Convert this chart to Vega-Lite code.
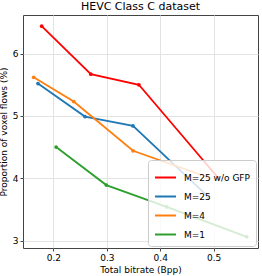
{
  "$schema": "https://vega.github.io/schema/vega-lite/v6.json",
  "width": 235,
  "height": 233,
  "autosize": {"type": "none"},
  "padding": {"left": 23, "top": 15, "right": 4, "bottom": 28},
  "title": {"text": "HEVC Class C dataset", "font": "DejaVu Sans", "fontSize": 11, "fontWeight": "normal", "color": "#000", "offset": 3},
  "config": {
    "view": {"stroke": "#444", "strokeWidth": 1},
    "font": "DejaVu Sans"
  },
  "data": {"values": [
    {"series": "M=25 w/o GFP", "bpp": 0.178, "p": 6.44},
    {"series": "M=25 w/o GFP", "bpp": 0.270, "p": 5.67},
    {"series": "M=25 w/o GFP", "bpp": 0.360, "p": 5.50},
    {"series": "M=25 w/o GFP", "bpp": 0.509, "p": 4.00},
    {"series": "M=25", "bpp": 0.171, "p": 5.52},
    {"series": "M=25", "bpp": 0.259, "p": 4.99},
    {"series": "M=25", "bpp": 0.349, "p": 4.84},
    {"series": "M=25", "bpp": 0.490, "p": 3.70},
    {"series": "M=4", "bpp": 0.163, "p": 5.62},
    {"series": "M=4", "bpp": 0.238, "p": 5.23},
    {"series": "M=4", "bpp": 0.349, "p": 4.44},
    {"series": "M=4", "bpp": 0.488, "p": 4.02},
    {"series": "M=1", "bpp": 0.205, "p": 4.50},
    {"series": "M=1", "bpp": 0.299, "p": 3.89},
    {"series": "M=1", "bpp": 0.412, "p": 3.54},
    {"series": "M=1", "bpp": 0.562, "p": 3.06}
  ]},
  "mark": {"type": "line", "strokeWidth": 1.8, "point": {"filled": true, "size": 14}},
  "encoding": {
    "x": {
      "field": "bpp", "type": "quantitative",
      "scale": {"domain": [0.143, 0.583], "nice": false, "zero": false},
      "axis": {"values": [0.2, 0.3, 0.4, 0.5], "format": ".1f", "title": "Total bitrate (Bpp)",
        "titleFont": "DejaVu Sans", "titleFontSize": 9, "titleFontWeight": "normal", "titleColor": "#000", "titlePadding": 3,
        "labelFont": "DejaVu Sans", "labelFontSize": 9, "labelColor": "#000", "labelPadding": 2,
        "tickSize": 3, "tickColor": "#444", "domain": false,
        "grid": true, "gridColor": "#e3e3e3", "gridWidth": 1}
    },
    "y": {
      "field": "p", "type": "quantitative",
      "scale": {"domain": [2.88, 6.62], "nice": false, "zero": false},
      "axis": {"values": [3, 4, 5, 6], "format": "d", "title": "Proportion of voxel flows (%)",
        "titleFont": "DejaVu Sans", "titleFontSize": 9, "titleFontWeight": "normal", "titleColor": "#000", "titlePadding": 4,
        "labelFont": "DejaVu Sans", "labelFontSize": 9, "labelColor": "#000", "labelPadding": 2,
        "tickSize": 3, "tickColor": "#444", "domain": false,
        "grid": true, "gridColor": "#e3e3e3", "gridWidth": 1}
    },
    "color": {
      "field": "series", "type": "nominal",
      "scale": {"domain": ["M=25 w/o GFP", "M=25", "M=4", "M=1"], "range": ["#ff0000", "#1f77b4", "#ff7f0e", "#2ca02c"]},
      "legend": {
        "title": null, "orient": "bottom-right", "offset": 2,
        "symbolType": "stroke", "symbolSize": 440, "symbolStrokeWidth": 2,
        "labelFont": "DejaVu Sans", "labelFontSize": 9, "labelColor": "#000",
        "rowPadding": 2, "padding": 6, "labelOffset": 7,
        "fillColor": "rgba(255,255,255,0.8)", "strokeColor": "#ccc", "cornerRadius": 3
      }
    }
  }
}
